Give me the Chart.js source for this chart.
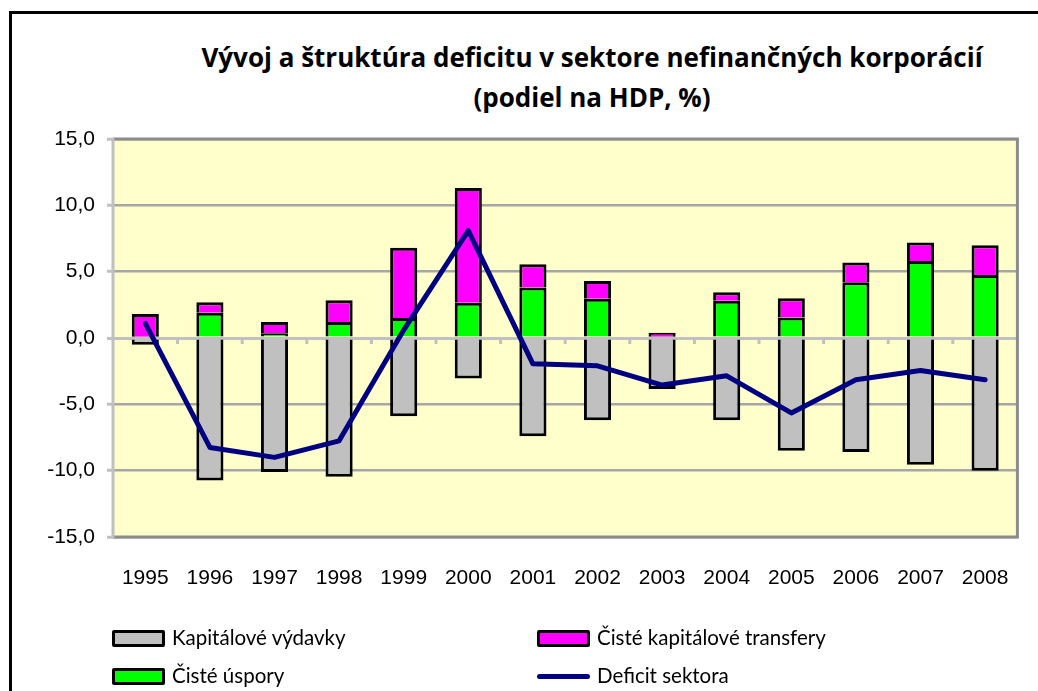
<!DOCTYPE html>
<html>
<head>
<meta charset="utf-8">
<script src="https://cdn.jsdelivr.net/npm/chart.js@4.4.1/dist/chart.umd.min.js"></script>
<style>
  html, body { margin: 0; padding: 0; background: #fff; }
  #wrap { position: relative; width: 1038px; height: 691px; overflow: hidden; }
  #frame { position: absolute; left: 9px; top: 11px; width: 1100px; height: 800px; border: 3px solid #000; }
  #title { position: absolute; left: 142px; width: 900px; top: 37px; text-align: center;
           font-family: "Open Sans", Lato, sans-serif; font-weight: bold; font-size: 26px; line-height: 40px; color: #000; }
  canvas { position: absolute; left: 0; top: 0; }
  .leg { position: absolute; font-family: Lato, "Open Sans", sans-serif; font-size: 20.5px; color: #000; height: 24px; line-height: 24px; white-space: nowrap; }
  .leg .box { position: absolute; left: 0; top: 3px; width: 47px; height: 11px; border: 3px solid #000; border-radius: 2px; }
  .leg .ln { position: absolute; left: 0; top: 9px; width: 53px; height: 5px; border-radius: 3px; }
  .leg span { position: absolute; left: 60px; top: -2px; }
</style>
</head>
<body>
<div id="wrap">
  <div id="frame"></div>
  <div id="title">Vývoj a štruktúra deficitu v sektore nefinančných korporácií<br>(podiel na HDP, %)</div>
  <canvas id="chart" width="1038" height="691"></canvas>
  <div id="legend"></div>
</div>
<script>
const years = ['1995', '1996', '1997', '1998', '1999', '2000', '2001', '2002', '2003', '2004', '2005', '2006', '2007', '2008'];
const kapitaloveVydavky = [-0.5, -10.75, -10.1, -10.45, -5.9, -3.05, -7.4, -6.2, -3.85, -6.2, -8.5, -8.6, -9.55, -10.0];
const cisteUspory = [0.1, 1.9, 0.35, 1.2, 1.5, 2.65, 3.8, 2.95, 0.1, 2.8, 1.55, 4.2, 5.8, 4.75];
const cisteTransfery = [1.7, 0.8, 0.85, 1.65, 5.3, 8.65, 1.75, 1.35, 0.3, 0.65, 1.45, 1.5, 1.4, 2.25];
const deficitSektora = [1.1, -8.25, -9.0, -7.75, 0.6, 8.1, -1.95, -2.1, -3.55, -2.85, -5.65, -3.15, -2.45, -3.15];
const yTicks = [-15, -10, -5, 0, 5, 10, 15];

// plot background, frame and the little ticks on the zero line
const plotDecor = {
    id: 'plotDecor',
    beforeDraw(chart) {
        const {ctx, chartArea: a} = chart;
        ctx.save();
        ctx.fillStyle = '#ffffcc';
        ctx.fillRect(a.left, a.top, a.right - a.left, a.bottom - a.top);
        ctx.restore();
    },
    beforeDatasetsDraw(chart) {
        const {ctx, scales} = chart;
        const y0 = scales.y.getPixelForValue(0);
        ctx.save();
        ctx.strokeStyle = '#c0c0c0';
        ctx.lineWidth = 3;
        for (let i = 1; i < years.length; i++) {
            const xb = (scales.x.getPixelForValue(i - 1) + scales.x.getPixelForValue(i)) / 2;
            ctx.beginPath();
            ctx.moveTo(xb, y0);
            ctx.lineTo(xb, y0 + 6);
            ctx.stroke();
        }
        ctx.restore();
    },
    afterDraw(chart) {
        const {ctx, chartArea: a} = chart;
        ctx.save();
        ctx.strokeStyle = '#8c8c8c';
        ctx.lineWidth = 3;
        ctx.beginPath();
        ctx.moveTo(a.left, a.top);
        ctx.lineTo(a.right, a.top);
        ctx.lineTo(a.right, a.bottom);
        ctx.lineTo(a.left, a.bottom);
        ctx.stroke();
        ctx.strokeStyle = '#c0c0c0';
        ctx.beginPath();
        ctx.moveTo(a.left, a.top - 1);
        ctx.lineTo(a.left, a.bottom + 1);
        ctx.stroke();
        ctx.restore();
    }
};

const ctx = document.getElementById('chart').getContext('2d');
const chart = new Chart(ctx, {
    type: 'bar',
    data: {
        labels: years,
        datasets: [
            {
                label: 'Kapitálové výdavky',
                data: kapitaloveVydavky,
                backgroundColor: '#c0c0c0',
                borderColor: '#000',
                borderWidth: 3,
                stack: 'a',
                order: 1
            },
            {
                label: 'Čisté úspory',
                data: cisteUspory,
                backgroundColor: '#00ff00',
                borderColor: '#000',
                borderWidth: 3,
                stack: 'a',
                order: 1
            },
            {
                label: 'Čisté kapitálové transfery',
                data: cisteTransfery,
                backgroundColor: '#ff00ff',
                borderColor: '#000',
                borderWidth: 3,
                stack: 'a',
                order: 1
            },
            {
                type: 'line',
                label: 'Deficit sektora',
                data: deficitSektora,
                borderColor: '#000080',
                backgroundColor: '#000080',
                borderWidth: 5,
                pointRadius: 0,
                tension: 0,
                borderCapStyle: 'round',
                borderJoinStyle: 'round',
                stack: 'line',
                order: 0
            }
        ]
    },
    options: {
        responsive: false,
        animation: false,
        layout: { padding: { left: 0, top: 139, right: 15, bottom: 0 } },
        datasets: { bar: { categoryPercentage: 1, barPercentage: 0.42 } },
        plugins: {
            legend: { display: false },
            title: { display: false },
            tooltip: { enabled: false }
        },
        scales: {
            x: {
                stacked: true,
                grid: { display: false, drawTicks: false },
                border: { display: false },
                ticks: {
                    color: '#000',
                    padding: 29,
                    maxRotation: 0,
                    font: { family: '"Liberation Sans", Arial', size: 21 }
                },
                afterFit(scale) { scale.height = 154; }
            },
            y: {
                stacked: true,
                min: -15,
                max: 15,
                afterBuildTicks(scale) { scale.ticks = yTicks.map(v => ({ value: v })); },
                grid: {
                    color: c => c.tick && c.tick.value === 0 ? '#c0c0c0' : '#a6a6a6',
                    lineWidth: c => c.tick && c.tick.value === 0 ? 3 : 2.5,
                    tickColor: '#c0c0c0',
                    tickLength: 6,
                    tickWidth: 3
                },
                border: { display: false },
                ticks: {
                    color: '#000',
                    padding: 12,
                    font: { family: '"Liberation Sans", Arial', size: 21 },
                    callback: v => v.toFixed(1).replace('.', ',')
                },
                afterFit(scale) { scale.width = 113; }
            }
        }
    },
    plugins: [plotDecor]
});

// legend in two columns, built from the datasets
const legendPos = [
    { left: 112, top: 627 },
    { left: 112, top: 665 },
    { left: 537, top: 627 },
    { left: 537, top: 665 }
];
const legendEl = document.getElementById('legend');
chart.data.datasets.forEach((ds, i) => {
    const item = document.createElement('div');
    item.className = 'leg';
    item.style.left = legendPos[i].left + 'px';
    item.style.top = legendPos[i].top + 'px';
    const mark = document.createElement('div');
    if (ds.type === 'line') {
        mark.className = 'ln';
        mark.style.background = ds.borderColor;
    } else {
        mark.className = 'box';
        mark.style.background = ds.backgroundColor;
    }
    const txt = document.createElement('span');
    txt.textContent = ds.label;
    item.appendChild(mark);
    item.appendChild(txt);
    legendEl.appendChild(item);
});
</script>
</body>
</html>
